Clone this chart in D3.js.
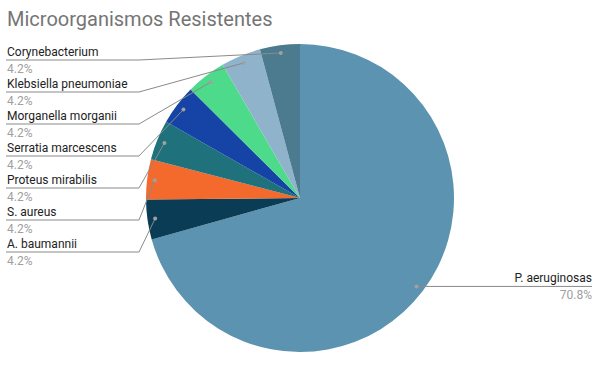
<!DOCTYPE html>
<html>
<head>
  <script src="https://d3js.org/d3.v7.min.js"></script>
  <style>
    body { margin: 0; background: #fff; }
    text { font-family: Roboto, "Noto Sans", sans-serif; }
  </style>
</head>
<body>
  <svg id="canvas" width="604" height="374"></svg>
  <script>
    // slices, clockwise from 12 o'clock
    const organisms = ['P. aeruginosas', 'A. baumannii', 'S. aureus', 'Proteus mirabilis',
      'Serratia marcescens', 'Morganella morganii', 'Klebsiella pneumoniae', 'Corynebacterium'];
    const shares = [70.8, 4.2, 4.2, 4.2, 4.2, 4.2, 4.2, 4.2];
    const sliceColors = ['#5b93b0', '#0b3c55', '#f36a2c', '#1f727c', '#1543a6', '#4ddb8b', '#8fb3cb', '#4c7b8f'];

    const svg = d3.select('svg#canvas');
    const cx = 300, cy = 198, radius = 154;

    // title
    svg.append('text')
      .attr('x', 7)
      .attr('y', 26)
      .text('Microorganismos Resistentes')
      .style('font-size', '20px')
      .style('fill', '#757575');

    const pie = d3.pie().sort(null).value(d => d.value);
    const arcs = pie(organisms.map((name, i) => ({ name: name, value: shares[i], color: sliceColors[i] })));
    const arc = d3.arc().innerRadius(0).outerRadius(radius);
    const dotArc = d3.arc().innerRadius(radius * 0.95).outerRadius(radius * 0.95);

    const chart = svg.append('g').attr('transform', `translate(${cx}, ${cy})`);
    chart.selectAll('path')
      .data(arcs)
      .join('path')
      .attr('d', arc)
      .attr('fill', d => d.data.color);

    const labels = svg.append('g');

    arcs.forEach((d, i) => {
      const [dx, dy] = dotArc.centroid(d);
      const px = cx + dx, py = cy + dy;
      let pts, tx, anchor, lineY;
      if (i === 0) {
        // big slice: label on the right
        lineY = py;
        tx = 592;
        anchor = 'end';
        pts = [[px, py], [tx, py]];
      } else {
        // small slices stacked on the left, Corynebacterium on top
        const slot = organisms.length - 1 - i;
        lineY = 60 + slot * 32;
        tx = 7;
        anchor = 'start';
        pts = [[px, py], [139, lineY], [6, lineY]];
      }
      labels.append('path')
        .attr('d', d3.line()(pts))
        .attr('fill', 'none')
        .attr('stroke', '#8a8a8a')
        .attr('stroke-width', 1);
      labels.append('circle')
        .attr('cx', px)
        .attr('cy', py)
        .attr('r', 2)
        .attr('fill', '#a0a0a0');
      labels.append('text')
        .attr('x', tx)
        .attr('y', lineY - 4)
        .attr('text-anchor', anchor)
        .text(d.data.name)
        .style('font-size', '12px')
        .style('fill', '#222');
      labels.append('text')
        .attr('x', tx)
        .attr('y', lineY + 13)
        .attr('text-anchor', anchor)
        .text(d.data.value.toFixed(1) + '%')
        .style('font-size', '12px')
        .style('fill', '#a0a0a0');
    });
  </script>
</body>
</html>
